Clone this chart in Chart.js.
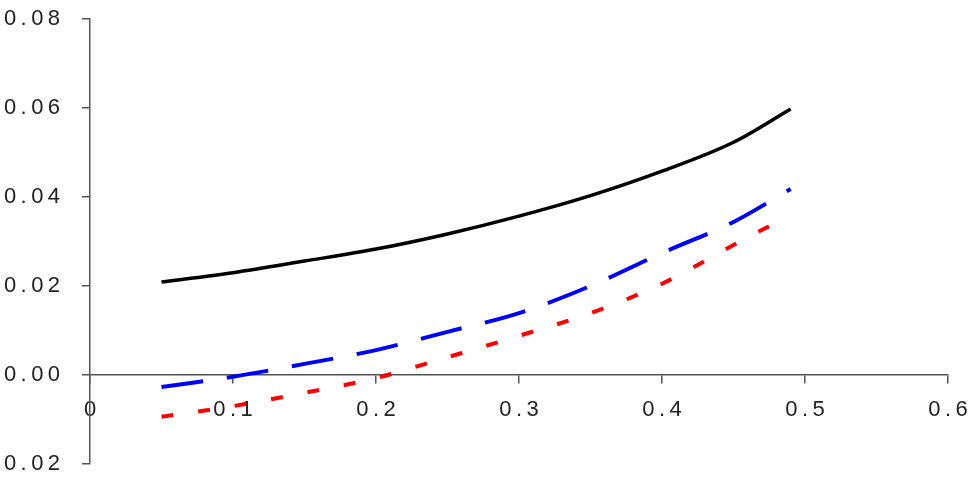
<!DOCTYPE html>
<html>
<head>
<meta charset="utf-8">
<script src="https://cdn.jsdelivr.net/npm/chart.js@4/dist/chart.umd.min.js"></script>
<style>
  html, body { margin: 0; padding: 0; background: #fff; }
  #wrap { width: 976px; height: 486px; position: relative; }
</style>
</head>
<body>
<div id="wrap"><canvas id="curves"></canvas></div>
<script>
// values
const xValues = [0.05, 0.10, 0.15, 0.20, 0.25, 0.30, 0.35, 0.40, 0.45, 0.49];
const blackSeries = [0.0209, 0.0230, 0.0256, 0.0283, 0.0317, 0.0357, 0.0403, 0.0458, 0.0523, 0.0598];
const blueSeries  = [-0.0027, -0.0004, 0.0025, 0.0056, 0.0097, 0.0139, 0.0200, 0.0274, 0.0344, 0.0418];
const redSeries   = [-0.0094, -0.0070, -0.0040, -0.0007, 0.0040, 0.0088, 0.0139, 0.0205, 0.0292, 0.0360];

const xTicks = [0, 0.1, 0.2, 0.3, 0.4, 0.5, 0.6];
const yTicks = [-0.02, 0.00, 0.02, 0.04, 0.06, 0.08];

// spread characters the way the old spreadsheet labels are
function spaced(s) {
    return s.split('').join('\u2009');
}

function toPoints(ys) {
    return xValues.map((x, i) => ({ x: x, y: ys[i] }));
}

// keep the label overhang out of the layout
function noPadding(scale) {
    scale.paddingTop = 0;
    scale.paddingBottom = 0;
    scale.paddingLeft = 0;
    scale.paddingRight = 0;
}

const axisColor = '#555';
const labelFont = { family: 'Liberation Sans, Arial', size: 22 };

new Chart(document.getElementById('curves'), {
    type: 'line',
    data: {
        datasets: [
            { data: toPoints(blackSeries), borderColor: '#000000', borderWidth: 3.5 },
            { data: toPoints(blueSeries), borderColor: '#0000ff', borderWidth: 4, borderDash: [42, 24] },
            { data: toPoints(redSeries), borderColor: '#ff0000', borderWidth: 4, borderDash: [12, 25] }
        ]
    },
    options: {
        responsive: true,
        maintainAspectRatio: false,
        animation: false,
        layout: { padding: { top: 19, bottom: 22, left: 0, right: 28 } },
        elements: {
            point: { radius: 0 },
            line: { cubicInterpolationMode: 'monotone', borderCapStyle: 'butt' }
        },
        scales: {
            x: {
                type: 'linear',
                position: { y: 0 },
                min: 0,
                max: 0.6,
                afterBuildTicks: axis => { axis.ticks = xTicks.map(v => ({ value: v })); },
                afterFit: noPadding,
                ticks: {
                    color: '#222',
                    font: labelFont,
                    padding: 14,
                    maxRotation: 0,
                    callback: v => v === 0 ? '0' : spaced(v.toFixed(1))
                },
                grid: { drawOnChartArea: false, drawTicks: true, tickLength: 8, color: axisColor, lineWidth: 1.5 },
                border: { display: true, color: axisColor, width: 1.5 }
            },
            y: {
                min: -0.02,
                max: 0.08,
                afterBuildTicks: axis => { axis.ticks = yTicks.map(v => ({ value: v })); },
                afterFit: scale => { scale.width = 90; noPadding(scale); },
                ticks: {
                    color: '#222',
                    font: labelFont,
                    padding: 22,
                    callback: v => spaced(v.toFixed(2))
                },
                grid: { drawOnChartArea: false, drawTicks: true, tickLength: 8, color: axisColor, lineWidth: 1.5 },
                border: { display: true, color: axisColor, width: 1.5 }
            }
        },
        plugins: {
            legend: { display: false },
            tooltip: { enabled: false }
        }
    }
});
</script>
</body>
</html>
